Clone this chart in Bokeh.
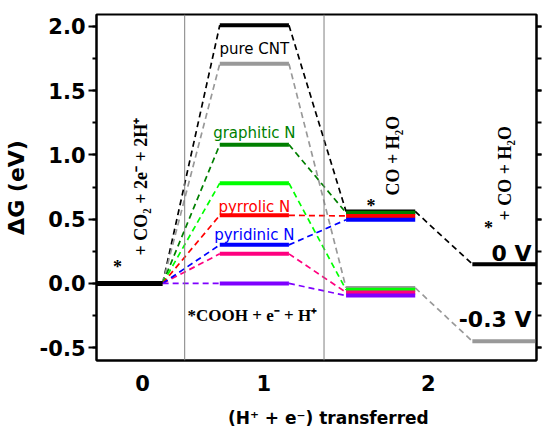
import math
from bokeh.plotting import figure
from bokeh.models import Range1d, LinearAxis, FixedTicker, PrintfTickFormatter, Span, ColumnDataSource
from bokeh.core.properties import value
from bokeh.embed import file_html
from bokeh.resources import INLINE

# ---------------- data ----------------
step_labels = ["0", "1", "2"]
series_names = ["pure CNT 0 V", "pure CNT -0.3 V", "graphitic N 0 V", "graphitic N -0.3 V",
                "pyrrolic N 0 V", "pyrrolic N -0.3 V", "pyridinic N 0 V", "pyridinic N -0.3 V"]
series_colors = ["#000000", "#999999", "#007F00", "#00FF00",
                 "#FF0000", "#FF007F", "#0000FF", "#7F00FF"]
# free energy (eV) at each state: *+CO2, *COOH, *CO, *+CO
pure_0 = [0.0, 2.01, 0.56, 0.15]
pure_m03 = [0.0, 1.71, -0.035, -0.45]
graphitic_0 = [0.0, 1.08, 0.55]
graphitic_m03 = [0.0, 0.78, -0.05]
pyrrolic_0 = [0.0, 0.53, 0.525]
pyrrolic_m03 = [0.0, 0.23, -0.07]
pyridinic_0 = [0.0, 0.30, 0.495]
pyridinic_m03 = [0.0, 0.00, -0.095]
series_values = [pure_0, pure_m03, graphitic_0, graphitic_m03,
                 pyrrolic_0, pyrrolic_m03, pyridinic_0, pyridinic_m03]

y_ticks = [-0.5, 0.0, 0.5, 1.0, 1.5, 2.0]
y_minor = [-0.75, -0.5, -0.25, 0.0, 0.25, 0.5, 0.75, 1.0, 1.25, 1.5, 1.75, 2.0]

# ---------------- layout (x positions of state levels) ----------------
level_x0 = [0.0, 1.23, 2.49, 3.75]
level_x1 = [0.66, 1.92, 3.18, 4.40]
x_tick_pos = [0.46, 1.67, 3.31]
sep_x = [0.88, 2.27]

p = figure(width=543, height=431, x_range=Range1d(0, 4.39), y_range=Range1d(-0.6, 2.093),
           output_backend="svg", toolbar_location=None,
           min_border_left=89, min_border_right=7, min_border_top=14, min_border_bottom=71)
p.xgrid.visible = False
p.ygrid.visible = False
p.outline_line_color = "black"
p.outline_line_width = 2
p.background_fill_color = "white"
p.border_fill_color = "white"

for sx in sep_x:
    p.add_layout(Span(location=sx, dimension="height", line_color="#808080", line_width=1))

# connectors
for vals, col in zip(series_values, series_colors):
    xs0, ys0, xs1, ys1 = [], [], [], []
    for k in range(len(vals) - 1):
        xs0.append(level_x1[k]); ys0.append(vals[k])
        xs1.append(level_x0[k + 1]); ys1.append(vals[k + 1])
    p.segment(x0=xs0, y0=ys0, x1=xs1, y1=ys1, line_color=col, line_width=1.7, line_dash="6 4")

# level bars
p.segment(x0=[level_x0[0]], y0=[pure_0[0]], x1=[level_x1[0]], y1=[pure_0[0]],
          line_color="black", line_width=5)
for vals, col in zip(series_values, series_colors):
    xs0, ys, xs1 = [], [], []
    for k in range(1, len(vals)):
        xs0.append(level_x0[k]); xs1.append(level_x1[k]); ys.append(vals[k])
    p.segment(x0=xs0, y0=ys, x1=xs1, y1=ys, line_color=col, line_width=4)

# series labels
lab_src = ColumnDataSource(dict(x=[1.575, 1.575, 1.575, 1.575], y=[1.821, 1.167, 0.594, 0.374],
                                t=["pure CNT", "graphitic N", "pyrrolic N", "pyridinic N"],
                                c=["#000000", "#007F00", "#FF0000", "#0000FF"]))
p.text(x="x", y="y", text="t", text_color="c", source=lab_src, text_align="center",
       text_baseline="alphabetic", text_font=value("DejaVu Sans"), text_font_size="15px")

# state labels (serif)
p.text(x=[1.555], y=[-0.249], text=["*COOH + e\u207B + H\u207A"], text_align="center",
       text_baseline="alphabetic", text_font=value("Liberation Serif"), text_font_style="bold",
       text_font_size="17px", text_color="black")
rot_src = ColumnDataSource(dict(x=[0.44, 2.96, 4.08], y=[0.218, 0.685, 0.49],
                                t=["+ CO\u2082 + 2e\u207B + 2H\u207A", "CO + H\u2082O", "+ CO + H\u2082O"]))
p.text(x="x", y="y", text="t", source=rot_src, angle=math.pi / 2, text_align="left",
       text_baseline="alphabetic", text_font=value("Liberation Serif"), text_font_style="bold",
       text_font_size="18px", text_color="black")
p.text(x=[0.21, 2.74, 3.91], y=[0.125, 0.60, 0.428], text=["*", "*", "*"], text_align="center",
       text_baseline="middle", text_font=value("Liberation Serif"), text_font_style="bold",
       text_font_size="18px", text_color="black")

# potential labels
p.text(x=[4.34, 4.34], y=[0.233, -0.283], text=["0 V", "-0.3 V"], text_align="right",
       text_baseline="alphabetic", text_font=value("DejaVu Sans"), text_font_style="bold",
       text_font_size="22px", text_color="black")

# axes
xa = p.xaxis[0]
xa.ticker = FixedTicker(ticks=x_tick_pos)
xa.major_label_overrides = {x_tick_pos[i]: step_labels[i] for i in range(3)}
xa.major_tick_out = 0
xa.major_tick_in = 0
xa.minor_tick_out = 0
xa.major_label_standoff = 14
xa.axis_line_width = 2
xa.axis_line_color = "black"
xa.major_label_text_color = "black"
xa.major_label_text_font = "DejaVu Sans"
xa.major_label_text_font_style = "bold"
xa.major_label_text_font_size = "21px"
xa.axis_label = "\u00a0\u00a0\u00a0\u00a0(H\u207A + e\u207B) transferred"
xa.axis_label_text_color = "black"
xa.axis_label_text_font = "DejaVu Sans"
xa.axis_label_text_font_style = "bold"
xa.axis_label_text_font_size = "17px"
xa.axis_label_standoff = 14

ya = p.yaxis[0]
ya.ticker = FixedTicker(ticks=y_ticks, minor_ticks=y_minor)
ya.formatter = PrintfTickFormatter(format="%.1f")
ya.major_tick_out = 8
ya.major_tick_in = 0
ya.minor_tick_out = 4
ya.minor_tick_in = 0
ya.major_tick_line_width = 2
ya.minor_tick_line_width = 2
ya.major_tick_line_color = "black"
ya.minor_tick_line_color = "black"
ya.axis_line_width = 2
ya.axis_line_color = "black"
ya.major_label_standoff = 3
ya.major_label_text_color = "black"
ya.major_label_text_font = "DejaVu Sans"
ya.major_label_text_font_style = "bold"
ya.major_label_text_font_size = "21px"
ya.axis_label = "\u0394G (eV)"
ya.axis_label_text_color = "black"
ya.axis_label_text_font = "DejaVu Sans"
ya.axis_label_text_font_style = "bold"
ya.axis_label_text_font_size = "22px"
ya.axis_label_standoff = 8

ra = LinearAxis(ticker=FixedTicker(ticks=y_ticks, minor_ticks=y_minor))
ra.major_label_overrides = {t: "" for t in y_ticks}
ra.major_label_standoff = 0
ra.axis_label_standoff = 0
ra.major_tick_out = 5
ra.major_tick_in = 0
ra.minor_tick_out = 5
ra.minor_tick_in = 0
ra.major_tick_line_width = 2
ra.minor_tick_line_width = 2
ra.major_tick_line_color = "black"
ra.minor_tick_line_color = "black"
ra.axis_line_width = 2
ra.axis_line_color = "black"
p.add_layout(ra, "right")

open("out.html", "w").write(file_html(p, INLINE))
